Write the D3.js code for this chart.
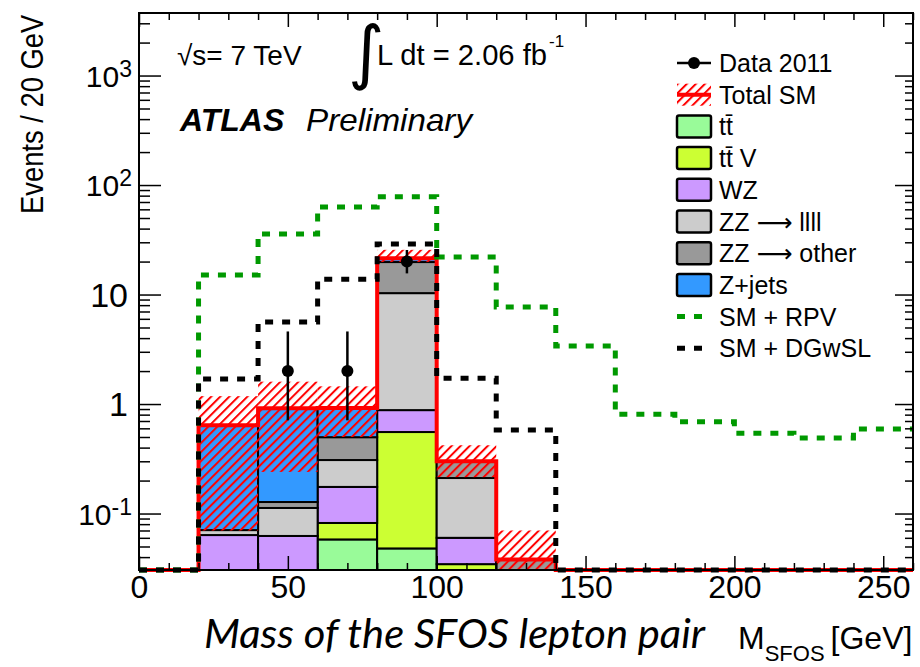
<!DOCTYPE html>
<html>
<head>
<meta charset="utf-8">
<script src="https://cdnjs.cloudflare.com/ajax/libs/d3/7.8.5/d3.min.js"></script>
<style>
body { margin: 0; background: #fff; }
text { font-family: "Liberation Sans", Arial, sans-serif; fill: #000; }
</style>
</head>
<body>
<script>
// bins of 20 GeV, 0 - 260
var binEdges = [0, 20, 40, 60, 80, 100, 120, 140, 160, 180, 200, 220, 240, 260];

// SM backgrounds (events per bin)
var ttbar   = [0, 0,      0,      0.058, 0.048, 0,      0,     0, 0, 0, 0, 0, 0];
var ttbarV  = [0, 0,      0,      0.024, 0.507, 0.0345, 0,     0, 0, 0, 0, 0, 0];
var wz      = [0, 0.0636, 0.0624, 0.093, 0.325, 0.0255, 0,     0, 0, 0, 0, 0, 0];
var zzllll  = [0, 0.007,  0.05,   0.133, 9.42,  0.151,  0,     0, 0, 0, 0, 0, 0];
var zzOther = [0, 0,      0.015,  0.19,  9.5,   0.09,   0.038, 0, 0, 0, 0, 0, 0];
var zjets   = [0, 0.57,   0.79,   0.42,  1.7,   0,      0,     0, 0, 0, 0, 0, 0];

// total SM uncertainty band
var bandLow  = [0, 0.07, 0.24, 0.5,  19.8, 0.215, 0.02, 0, 0, 0, 0, 0, 0];
var bandHigh = [0, 1.18, 1.6,  1.45, 25.6, 0.42,  0.07, 0, 0, 0, 0, 0, 0];

// data 2011
var dataCounts  = [0, 0, 2,    2,    20,   0, 0, 0, 0, 0, 0, 0, 0];
var dataErrLow  = [0, 0, 0.71, 0.71, 15.6, 0, 0, 0, 0, 0, 0, 0, 0];
var dataErrHigh = [0, 0, 4.6,  4.6,  25.5, 0, 0, 0, 0, 0, 0, 0, 0];

// signal + SM
var smRpv   = [0, 15.1, 35.7, 63, 78, 22, 7.7, 3.39, 0.805, 0.69, 0.54, 0.49, 0.59];
var smDgwsl = [0, 1.69, 5.6, 13.8, 29, 1.72, 0.58, 0, 0, 0, 0, 0, 0];

var xTicks = [0, 50, 100, 150, 200, 250];
var yTicks = [0.1, 1, 10, 100, 1000];
var yTickBase = ["10", "1", "10", "10", "10"];
var yTickExp  = ["-1", "", "", "2", "3"];

var stackKeys   = ["ttbar", "ttbarV", "wz", "zzllll", "zzOther", "zjets"];
var stackColors = ["#99fb99", "#ccff33", "#cc99ff", "#cccccc", "#999999", "#3399ff"];

var width = 920, height = 667;
var margin = {top: 13, right: 7, bottom: 97, left: 139};
var yMin = 0.0305, yMax = 3725;

var svg = d3.select("body").append("svg").attr("width", width).attr("height", height);

var defs = svg.append("defs");
var hatch = defs.append("pattern").attr("id", "hatch").attr("patternUnits", "userSpaceOnUse")
    .attr("width", 6.4).attr("height", 6.4).attr("patternTransform", "rotate(45)");
hatch.append("line").attr("x1", 1).attr("y1", 0).attr("x2", 1).attr("y2", 6.4)
    .attr("stroke", "#ff0000").attr("stroke-width", 2);

var x = d3.scaleLinear().domain([0, 260]).range([margin.left, width - margin.right]);
var y = d3.scaleLog().domain([yMin, yMax]).range([height - margin.bottom, margin.top]);
function yc(v) { return y(Math.max(v, yMin)); }

var rows = binEdges.slice(0, -1).map(function(e, i) {
    return {x0: e, x1: binEdges[i + 1], ttbar: ttbar[i], ttbarV: ttbarV[i], wz: wz[i],
            zzllll: zzllll[i], zzOther: zzOther[i], zjets: zjets[i]};
});
var series = d3.stack().keys(stackKeys)(rows);
var total = rows.map(function(r) { return d3.sum(stackKeys, function(k) { return r[k]; }); });

var plot = svg.append("g");

// stacked backgrounds
series.forEach(function(s, si) {
    plot.append("g").selectAll("rect")
        .data(s.filter(function(d) { return d[1] - d[0] > 0 && d[1] > yMin; }))
        .join("rect")
        .attr("x", function(d) { return x(d.data.x0); })
        .attr("width", function(d) { return x(d.data.x1) - x(d.data.x0); })
        .attr("y", function(d) { return yc(d[1]); })
        .attr("height", function(d) { return yc(d[0]) - yc(d[1]); })
        .attr("fill", stackColors[si]).attr("stroke", "#000").attr("stroke-width", 2);
});

// uncertainty band
var bandBins = d3.range(rows.length).filter(function(i) { return bandHigh[i] > 0; });
plot.append("g").selectAll("rect").data(bandBins).join("rect")
    .attr("x", function(i) { return x(binEdges[i]); })
    .attr("width", function(i) { return x(binEdges[i + 1]) - x(binEdges[i]); })
    .attr("y", function(i) { return yc(bandHigh[i]); })
    .attr("height", function(i) { return yc(bandLow[i]) - yc(bandHigh[i]); })
    .attr("fill", "url(#hatch)");

function stepPts(vals) {
    var pts = vals.map(function(v, i) { return [binEdges[i], v]; });
    pts.push([binEdges[binEdges.length - 1], vals[vals.length - 1]]);
    return pts;
}
var step = d3.line().x(function(d) { return x(d[0]); }).y(function(d) { return yc(d[1]); }).curve(d3.curveStepAfter);

plot.append("path").attr("d", step(stepPts(total))).attr("fill", "none")
    .attr("stroke", "#ff0000").attr("stroke-width", 4);

plot.append("path").attr("d", step(stepPts(smRpv))).attr("fill", "none")
    .attr("stroke", "#009900").attr("stroke-width", 5).attr("stroke-dasharray", "8,9");
plot.append("path").attr("d", step(stepPts(smDgwsl))).attr("fill", "none")
    .attr("stroke", "#000").attr("stroke-width", 5).attr("stroke-dasharray", "8,9");

// data points
var pts = d3.range(dataCounts.length).filter(function(i) { return dataCounts[i] > 0; });
var dg = plot.append("g");
dg.selectAll("line").data(pts).join("line")
    .attr("x1", function(i) { return x((binEdges[i] + binEdges[i + 1]) / 2); })
    .attr("x2", function(i) { return x((binEdges[i] + binEdges[i + 1]) / 2); })
    .attr("y1", function(i) { return yc(dataErrHigh[i]); })
    .attr("y2", function(i) { return yc(dataErrLow[i]); })
    .attr("stroke", "#000").attr("stroke-width", 2.5);
dg.selectAll("circle").data(pts).join("circle")
    .attr("cx", function(i) { return x((binEdges[i] + binEdges[i + 1]) / 2); })
    .attr("cy", function(i) { return yc(dataCounts[i]); })
    .attr("r", 6).attr("fill", "#000");

// axes (ticks inside the frame)
var x0 = height - margin.bottom, yTop = margin.top;
var xMinor = d3.range(0, 261, 10).filter(function(v) { return v % 50 != 0; });
var yMinor = y.ticks().filter(function(v) { return yTicks.indexOf(v) < 0; });

function noDomain(g) { g.select(".domain").remove(); g.selectAll("line").attr("stroke-width", 1.5); }

svg.append("g").attr("transform", "translate(0," + x0 + ")")
    .call(d3.axisBottom(x).tickValues(xMinor).tickSize(-7).tickFormat("")).call(noDomain);
svg.append("g").attr("transform", "translate(0," + yTop + ")")
    .call(d3.axisTop(x).tickValues(xMinor).tickSize(-7).tickFormat("")).call(noDomain);
svg.append("g").attr("transform", "translate(0," + yTop + ")")
    .call(d3.axisTop(x).tickValues(xTicks).tickSize(-14).tickFormat("")).call(noDomain);
var xAxis = svg.append("g").attr("transform", "translate(0," + x0 + ")")
    .call(d3.axisBottom(x).tickValues(xTicks).tickSize(-14).tickPadding(5).tickFormat(d3.format("d")))
    .call(noDomain);
xAxis.selectAll("text").attr("font-size", 32).attr("font-family", "Liberation Sans, Arial, sans-serif");

var xl = margin.left, xr = width - margin.right;
svg.append("g").attr("transform", "translate(" + xl + ",0)")
    .call(d3.axisLeft(y).tickValues(yMinor).tickSize(-11).tickFormat("")).call(noDomain);
svg.append("g").attr("transform", "translate(" + xl + ",0)")
    .call(d3.axisLeft(y).tickValues(yTicks).tickSize(-22).tickFormat("")).call(noDomain);
svg.append("g").attr("transform", "translate(" + xr + ",0)")
    .call(d3.axisRight(y).tickValues(yMinor).tickSize(-8).tickFormat("")).call(noDomain);
svg.append("g").attr("transform", "translate(" + xr + ",0)")
    .call(d3.axisRight(y).tickValues(yTicks).tickSize(-18).tickFormat("")).call(noDomain);

// 10^n labels smaller, plain "1" and "10" at axis-label size
var yl = svg.append("g").selectAll("text").data(yTicks).join("text")
    .attr("x", function(d, i) { return yTickExp[i] ? 132 : 128; })
    .attr("y", function(d, i) { return y(d) + (yTickExp[i] ? 11 : 12); })
    .attr("text-anchor", "end")
    .attr("font-size", function(d, i) { return yTickExp[i] ? 30 : 34; });
yl.append("tspan").text(function(d, i) { return yTickBase[i]; });
yl.append("tspan").attr("dy", -10).attr("font-size", 23).text(function(d, i) { return yTickExp[i]; });

svg.append("rect").attr("x", xl).attr("y", yTop).attr("width", xr - xl).attr("height", x0 - yTop)
    .attr("fill", "none").attr("stroke", "#000").attr("stroke-width", 2);

// axis titles
svg.append("text").attr("transform", "translate(43,214) rotate(-90) scale(0.855,1)")
    .attr("font-size", 32).text("Events / 20 GeV");

svg.append("text").attr("x", 204).attr("y", 648)
    .style("font-family", "Lato, 'Open Sans', sans-serif").style("font-style", "italic")
    .attr("font-size", 41).attr("textLength", 501).attr("lengthAdjust", "spacingAndGlyphs")
    .text("Mass of the SFOS lepton pair");
var mt = svg.append("text").attr("x", 738).attr("y", 649).attr("font-size", 32);
mt.append("tspan").text("M");
mt.append("tspan").attr("dy", 12).attr("font-size", 22).text("SFOS");
mt.append("tspan").attr("dy", -12).attr("dx", 6).text("[GeV]");

// labels in the plot
svg.append("text").attr("x", 177).attr("y", 65).attr("font-size", 28).text("\u221As= 7 TeV");
svg.append("text").attr("x", 348).attr("y", 76).attr("font-size", 70)
    .style("font-family", "'DejaVu Sans', sans-serif").text("\u222B");
svg.append("text").attr("x", 377).attr("y", 65).attr("font-size", 29)
    .attr("textLength", 170).attr("lengthAdjust", "spacingAndGlyphs").text("L dt = 2.06 fb");
svg.append("text").attr("x", 549).attr("y", 47).attr("font-size", 17).text("-1");
svg.append("text").attr("x", 180).attr("y", 131).attr("font-size", 32)
    .attr("font-weight", "bold").attr("font-style", "italic").text("ATLAS");
svg.append("text").attr("x", 306).attr("y", 131).attr("font-size", 32).attr("font-style", "italic")
    .attr("textLength", 166).attr("lengthAdjust", "spacingAndGlyphs").text("Preliminary");

// legend
var legendLabels = ["Data 2011", "Total SM", "tt\u0304", "tt\u0304 V", "WZ",
    "ZZ \u27F6 llll", "ZZ \u27F6 other", "Z+jets", "SM + RPV", "SM + DGwSL"];
var leg = svg.append("g");
legendLabels.forEach(function(lab, i) {
    var cy = 63 + i * 31.7;
    var g = leg.append("g");
    if (i == 0) {
        g.append("line").attr("x1", 677).attr("x2", 711).attr("y1", cy).attr("y2", cy)
            .attr("stroke", "#000").attr("stroke-width", 2.5);
        g.append("circle").attr("cx", 694).attr("cy", cy).attr("r", 6).attr("fill", "#000");
    } else if (i == 1) {
        g.append("rect").attr("x", 677).attr("y", cy - 11).attr("width", 34).attr("height", 22)
            .attr("fill", "url(#hatch)");
        g.append("line").attr("x1", 677).attr("x2", 711).attr("y1", cy).attr("y2", cy)
            .attr("stroke", "#ff0000").attr("stroke-width", 4);
    } else if (i < 8) {
        g.append("rect").attr("x", 677).attr("y", cy - 11).attr("width", 34).attr("height", 22)
            .attr("rx", 2).attr("fill", stackColors[i - 2]).attr("stroke", "#000").attr("stroke-width", 2.5);
    } else {
        g.append("line").attr("x1", 677).attr("x2", 702).attr("y1", cy).attr("y2", cy)
            .attr("stroke", i == 8 ? "#009900" : "#000").attr("stroke-width", 5)
            .attr("stroke-dasharray", "8,9");
    }
    var t = g.append("text").attr("x", 719).attr("y", cy + 9).attr("font-size", 25);
    var parts = lab.split("\u27F6");
    t.append("tspan").text(parts[0]);
    if (parts.length > 1) {
        t.append("tspan").style("font-family", "'DejaVu Sans', sans-serif").text("\u27F6");
        t.append("tspan").text(parts[1]);
    }
});
</script>
</body>
</html>
